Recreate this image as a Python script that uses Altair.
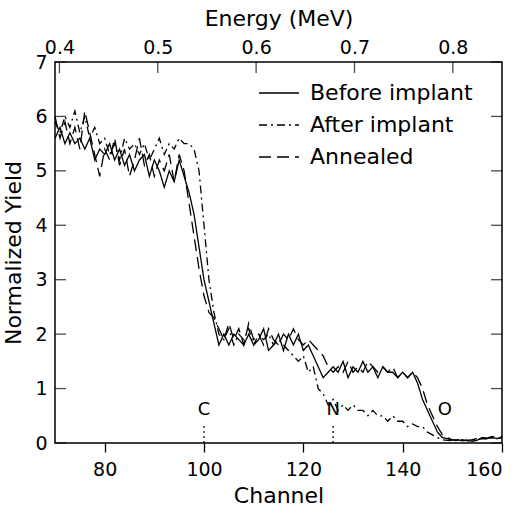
import altair as alt
import pandas as pd

# ---------------- data ----------------
channels = list(range(70, 161))

before = [5.6, 5.8, 5.5, 5.7, 5.5, 5.6, 5.4, 5.6, 5.2, 5.4,
          5.3, 5.5, 5.2, 5.4, 5.1, 5.3, 5.0, 5.2, 5.3, 4.9,
          5.2, 5.0, 4.7, 5.0, 4.8, 5.2, 4.9, 4.6, 4.2, 3.6,
          3.0, 2.6, 2.2, 1.8, 2.0, 1.8, 2.0, 1.9, 1.8, 2.0,
          1.8, 1.9, 2.1, 1.7, 1.8, 2.0, 1.7, 2.0, 1.8, 2.0,
          1.7, 1.8, 1.6, 1.4, 1.2, 1.3, 1.4, 1.3, 1.5, 1.2,
          1.4, 1.3, 1.5, 1.3, 1.4, 1.2, 1.4, 1.3, 1.3, 1.2,
          1.3, 1.2, 1.3, 1.1, 0.8, 0.6, 0.4, 0.2, 0.1, 0.08,
          0.05, 0.06, 0.04, 0.05, 0.03, 0.05, 0.1, 0.08, 0.1, 0.08,
          0.1]

after = [5.9, 5.7, 6.0, 5.8, 6.1, 5.7, 6.0, 5.6, 5.8, 5.5,
         5.6, 5.3, 5.5, 5.2, 5.6, 5.4, 5.5, 5.3, 5.5, 5.2,
         5.4, 5.6, 5.3, 5.5, 5.4, 5.6, 5.5, 5.5, 5.4, 5.0,
         4.0, 3.0, 2.4, 2.0, 1.9, 2.1, 1.8, 2.0, 1.9, 2.1,
         1.8, 2.0, 1.9, 2.0, 1.8, 1.9, 1.8, 1.7, 1.6, 1.5,
         1.6, 1.3, 1.4, 1.0, 0.9, 0.7, 0.8, 0.6, 0.7, 0.6,
         0.7, 0.6, 0.6, 0.5, 0.6, 0.5, 0.5, 0.4, 0.5, 0.4,
         0.4, 0.3, 0.35, 0.3, 0.3, 0.2, 0.15, 0.1, 0.06, 0.05,
         0.04, 0.05, 0.06, 0.04, 0.05, 0.06, 0.08, 0.07, 0.09, 0.08,
         0.1]

annealed = [6.0, 5.6, 5.9, 5.5, 5.8, 5.4, 6.1, 5.7, 5.3, 4.9,
            5.4, 5.2, 5.6, 5.1, 5.4, 4.9, 5.2, 5.6, 5.1, 5.3,
            4.9, 5.2, 5.0, 5.3, 4.8, 5.3, 5.0, 4.4, 3.8, 3.2,
            2.7, 2.4, 2.3, 2.1, 1.9, 2.2, 1.9, 2.1, 1.8, 2.2,
            1.9, 2.0, 1.8, 2.1, 1.9, 1.8, 2.0, 1.9, 2.1, 1.9,
            1.8, 1.9, 1.8, 1.7, 1.6, 1.4, 1.3, 1.4, 1.3, 1.5,
            1.3, 1.4, 1.3, 1.5, 1.4, 1.3, 1.4, 1.3, 1.4, 1.2,
            1.3, 1.2, 1.3, 1.2, 1.0, 0.7, 0.5, 0.3, 0.15, 0.1,
            0.06, 0.05, 0.07, 0.05, 0.06, 0.08, 0.1, 0.09, 0.12, 0.1,
            0.12]

series_names = ["Before implant", "After implant", "Annealed"]

x_ticks = [80, 100, 120, 140, 160]
y_ticks = [0, 1, 2, 3, 4, 5, 6, 7]
energy_ticks = [0.4, 0.5, 0.6, 0.7, 0.8]

edge_labels = ["C", "N", "O"]
edge_label_channels = [100, 126, 148.5]
edge_label_y = [0.6, 0.6, 0.6]
edge_line_channels = [100, 126]
edge_line_top = [0.35, 0.35]

# ---------------- styling constants ----------------
W, H = 447, 381
FONT = "DejaVu Sans"
E_MIN, E_MAX = 0.3955, 0.850
LW = 1.3
TICK = 11

df = pd.DataFrame({
    "channel": channels * 3,
    "yield": before + after + annealed,
    "series": [series_names[0]] * len(channels)
              + [series_names[1]] * len(channels)
              + [series_names[2]] * len(channels),
})

xscale = alt.Scale(domain=[70, 160], nice=False, zero=False)
yscale = alt.Scale(domain=[0, 7], nice=False, zero=True)
yaxis = alt.Axis(values=y_ticks, title="Normalized Yield", ticks=False,
                 tickSize=0, labelPadding=8, titlePadding=9, domain=False,
                 grid=False)

lines = alt.Chart(df).mark_line(color="black", strokeWidth=LW).encode(
    x=alt.X("channel:Q", scale=xscale,
            axis=alt.Axis(values=x_ticks, title="Channel", orient="bottom",
                          tickSize=9, tickColor="black", tickWidth=LW,
                          labelPadding=8, titlePadding=6, domain=False,
                          grid=False)),
    y=alt.Y("yield:Q", scale=yscale, axis=yaxis),
    strokeDash=alt.StrokeDash(
        "series:N",
        scale=alt.Scale(domain=series_names, range=[[1, 0], [8, 4, 2, 4], [12, 6]]),
        legend=alt.Legend(title=None, orient="none", legendX=203, legendY=10,
                          symbolType="stroke", symbolSize=1600,
                          symbolStrokeWidth=LW, symbolStrokeColor="black",
                          labelFontSize=22, labelFont=FONT, labelColor="black",
                          labelLimit=0, labelOffset=10, rowPadding=0, padding=0),
    ),
)

left_ticks = alt.Chart(pd.DataFrame({"yield": y_ticks})).mark_tick(
    color="black", thickness=LW, size=TICK, orient="horizontal").encode(
    y=alt.Y("yield:Q", scale=yscale, axis=yaxis),
    x=alt.value(TICK / 2))

right_ticks = alt.Chart(pd.DataFrame({"yield": y_ticks})).mark_tick(
    color="black", thickness=LW, size=TICK, orient="horizontal").encode(
    y=alt.Y("yield:Q", scale=yscale, axis=yaxis),
    x=alt.value(W - TICK / 2))

top_axis = alt.Chart(pd.DataFrame({"e": energy_ticks})).mark_tick(
    color="black", thickness=LW, size=TICK, orient="vertical").encode(
    x=alt.X("e:Q", scale=alt.Scale(domain=[E_MIN, E_MAX], nice=False, zero=False),
            axis=alt.Axis(orient="top", values=energy_ticks, format=".1f",
                          title="Energy  (MeV)", ticks=False, tickSize=0,
                          labelPadding=5, titlePadding=8, domain=False,
                          grid=False)),
    y=alt.value(TICK / 2))

edge_rules = alt.Chart(pd.DataFrame({
    "ch": edge_line_channels, "yield": [0] * len(edge_line_channels), "y1": edge_line_top
})).mark_rule(color="black", strokeWidth=1.2, strokeDash=[2, 3]).encode(
    x=alt.X("ch:Q", scale=xscale, axis=None),
    y=alt.Y("yield:Q", scale=yscale, axis=yaxis),
    y2="y1:Q")

edge_text = alt.Chart(pd.DataFrame({
    "ch": edge_label_channels, "yield": edge_label_y, "t": edge_labels
})).mark_text(font=FONT, fontSize=18, color="black", baseline="middle").encode(
    x=alt.X("ch:Q", scale=xscale, axis=None),
    y=alt.Y("yield:Q", scale=yscale, axis=yaxis),
    text="t:N")

chart = alt.layer(
    lines, left_ticks, right_ticks, top_axis, edge_rules, edge_text
).resolve_scale(x="independent").properties(
    width=W, height=H,
    background="white",
    padding={"left": 55, "top": 62, "right": 29, "bottom": 71},
    autosize=alt.AutoSizeParams(type="none"),
).configure_view(
    stroke="black", strokeWidth=1.5
).configure_axis(
    labelFont=FONT, titleFont=FONT, labelFontSize=19, titleFontSize=22,
    labelColor="black", titleColor="black", titleFontWeight="normal",
    grid=False
)

chart.save("out.html", embed_options={"renderer": "svg", "actions": False})
